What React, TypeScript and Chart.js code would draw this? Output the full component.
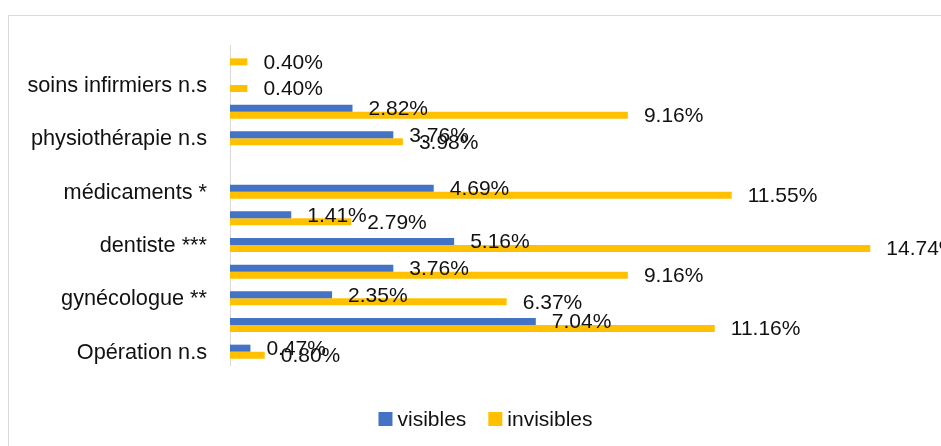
import React, { useEffect, useRef } from "react";
import { Chart, registerables } from "chart.js";

Chart.register(...registerables);

// Categories, top to bottom (labels Excel skipped are left empty)
const categories = [
  "",
  "soins infirmiers n.s",
  "",
  "physiothérapie n.s",
  "",
  "médicaments *",
  "",
  "dentiste ***",
  "",
  "gynécologue **",
  "",
  "Opération n.s",
];
const visibles: (number | null)[] = [null, null, 2.82, 3.76, null, 4.69, 1.41, 5.16, 3.76, 2.35, 7.04, 0.47];
const invisibles: (number | null)[] = [0.4, 0.4, 9.16, 3.98, null, 11.55, 2.79, 14.74, 9.16, 6.37, 11.16, 0.8];
const seriesNames = ["visibles", "invisibles"];
const seriesColors = ["#4472C4", "#FFC000"];
const xMin = 0;
const xMax = 16;

const FONT = "'Liberation Sans', Arial, sans-serif";
const FONT_SIZE = 21;
const TICK_FONT_SIZE = 21.7;
const TEXT_COLOR = "#111111";

const framePlugin = {
  id: "frame",
  beforeDraw(chart: any) {
    const ctx = chart.ctx;
    ctx.save();
    ctx.fillStyle = "#ffffff";
    ctx.fillRect(0, 0, chart.width, chart.height);
    ctx.strokeStyle = "#d9d9d9";
    ctx.lineWidth = 1;
    ctx.strokeRect(8.5, 15.5, 2000, 2000);
    ctx.restore();
  },
};

const dataLabelPlugin = {
  id: "dataLabels",
  afterDatasetsDraw(chart: any) {
    const ctx = chart.ctx;
    ctx.save();
    ctx.font = `${FONT_SIZE}px ${FONT}`;
    ctx.fillStyle = TEXT_COLOR;
    ctx.textAlign = "left";
    ctx.textBaseline = "middle";
    chart.data.datasets.forEach((ds: any, di: number) => {
      const meta = chart.getDatasetMeta(di);
      meta.data.forEach((el: any, i: number) => {
        const v = ds.data[i];
        if (v === null || v === undefined) return;
        ctx.fillText(v.toFixed(2) + "%", el.x + 16, el.y + 1);
      });
    });
    ctx.restore();
  },
};

const legendPlugin = {
  id: "customLegend",
  afterDraw(chart: any) {
    const ctx = chart.ctx;
    ctx.save();
    ctx.font = `${FONT_SIZE}px ${FONT}`;
    ctx.textBaseline = "middle";
    ctx.textAlign = "left";
    const box = 14;
    const gap = 5;
    const spacing = 22;
    const centerX = 485.5;
    const centerY = 419;
    const items = chart.data.datasets.map((ds: any) => ({
      label: ds.label,
      color: ds.backgroundColor,
      w: ctx.measureText(ds.label).width,
    }));
    let total = 0;
    items.forEach((it: any, i: number) => {
      total += box + gap + it.w + (i < items.length - 1 ? spacing : 0);
    });
    let x = centerX - total / 2;
    items.forEach((it: any) => {
      ctx.fillStyle = it.color;
      ctx.fillRect(x, centerY - box / 2, box, box);
      ctx.fillStyle = TEXT_COLOR;
      ctx.fillText(it.label, x + box + gap, centerY + 1);
      x += box + gap + it.w + spacing;
    });
    ctx.restore();
  },
};

export default function App() {
  const canvasRef = useRef<HTMLCanvasElement | null>(null);

  useEffect(() => {
    if (!canvasRef.current) return;
    const chart = new Chart(canvasRef.current, {
      type: "bar",
      data: {
        labels: categories,
        datasets: [
          {
            label: seriesNames[0],
            data: visibles,
            backgroundColor: seriesColors[0],
            categoryPercentage: 0.525,
            barPercentage: 1,
          },
          {
            label: seriesNames[1],
            data: invisibles,
            backgroundColor: seriesColors[1],
            categoryPercentage: 0.525,
            barPercentage: 1,
          },
        ],
      } as any,
      options: {
        indexAxis: "y",
        responsive: false,
        devicePixelRatio: 1,
        animation: false,
        layout: { padding: { top: 45, right: 16, bottom: 81, left: 0 } },
        plugins: {
          legend: { display: false },
          tooltip: { enabled: false },
        },
        scales: {
          x: {
            type: "linear",
            min: xMin,
            max: xMax,
            display: false,
          },
          y: {
            type: "category",
            grid: { display: false, drawTicks: false },
            border: { display: true, color: "#d9d9d9", width: 1 },
            ticks: {
              autoSkip: false,
              padding: 23,
              labelOffset: 1,
              color: TEXT_COLOR,
              font: { family: FONT, size: TICK_FONT_SIZE },
            },
            afterFit: (scale: any) => {
              scale.width = 230;
            },
          },
        },
      } as any,
      plugins: [framePlugin, dataLabelPlugin, legendPlugin],
    });
    return () => chart.destroy();
  }, []);

  return (
    <div style={{ position: "absolute", left: 0, top: 0, width: 941, height: 446 }}>
      <canvas ref={canvasRef} width={941} height={446} style={{ display: "block" }} />
    </div>
  );
}
